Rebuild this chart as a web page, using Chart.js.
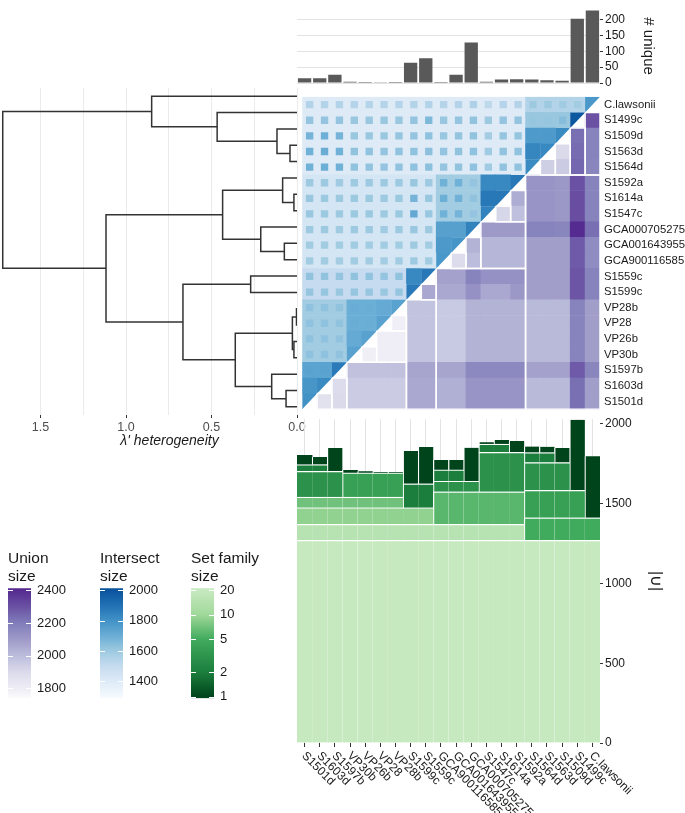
<!DOCTYPE html>
<html>
<head>
<meta charset="utf-8">
<script src="https://cdn.jsdelivr.net/npm/chart.js@4.4.1/dist/chart.umd.min.js"></script>
<style>
  html, body { margin: 0; padding: 0; background: #fff; }
  body { width: 685px; height: 813px; position: relative; overflow: hidden; }
  canvas { position: absolute; }
</style>
</head>
<body>
<canvas id="dendro"></canvas>
<canvas id="bottom"></canvas>
<canvas id="heat"></canvas>
<canvas id="top"></canvas>
<canvas id="legUnion"></canvas>
<canvas id="legInter"></canvas>
<canvas id="legFam"></canvas>
<script>
// genomes, top to bottom in the heatmap (columns run the other way)
const rows = ['C.lawsonii', 'S1499c', 'S1509d', 'S1563d', 'S1564d', 'S1592a', 'S1614a', 'S1547c',
  'GCA000705275', 'GCA001643955', 'GCA900116585', 'S1559c', 'S1599c', 'VP28b', 'VP28', 'VP26b',
  'VP30b', 'S1597b', 'S1603d', 'S1501d'];
const cols = rows.slice().reverse();

// # unique, by column
const uniqueCount = [15, 15, 26, 4, 3, 2, 3, 64, 78, 3, 26, 128, 4, 11, 12, 11, 9, 7, 203, 229];

// dendrogram merges: 0-19 are leaves (rows), 20+k is merge k
const mergeA = [3, 2, 1, 0, 6, 5, 9, 8, 25, 11, 13, 15, 30, 18, 17, 32, 29, 28, 23];
const mergeB = [4, 20, 21, 22, 7, 24, 10, 26, 27, 12, 14, 16, 31, 19, 33, 34, 35, 36, 37];
const mergeHeight = [0.041, 0.117, 0.467, 0.85, 0.018, 0.084, 0.074, 0.212, 0.435, 0.271,
  0.003, 0.018, 0.027, 0.064, 0.148, 0.361, 0.667, 1.117, 1.721];
// intersect of every genome in a merge block (block background)
const coreSize = [1835, 1770, 1610, 1550, 1880, 1830, 1775, 1750, 1590, 1830,
  1715, 1715, 1700, 1785, 1740, 1590, 1500, 1440, 1400];

// diagonal: genome size
const genomeSize = [1780, 1990, 1820, 1830, 1820, 1880, 1880, 1850, 1850, 1790,
  1780, 1880, 1875, 1745, 1745, 1745, 1745, 1870, 1820, 1800];

// pairwise intersect, row r, columns 0 .. 18-r
const interRows = [
  [1550, 1550, 1550, 1540, 1540, 1540, 1540, 1550, 1550, 1540, 1545, 1560, 1520, 1540, 1545, 1600, 1600, 1595, 1590],
  [1620, 1620, 1620, 1610, 1610, 1610, 1610, 1620, 1660, 1610, 1620, 1625, 1600, 1620, 1620, 1615, 1615, 1645],
  [1680, 1695, 1680, 1610, 1610, 1610, 1615, 1620, 1630, 1610, 1620, 1625, 1585, 1615, 1615, 1770, 1775],
  [1690, 1705, 1690, 1625, 1625, 1620, 1625, 1630, 1635, 1620, 1625, 1630, 1595, 1625, 1625, 1835],
  [1690, 1700, 1690, 1625, 1625, 1620, 1625, 1630, 1635, 1620, 1625, 1630, 1595, 1625, 1625],
  [1600, 1600, 1595, 1600, 1600, 1600, 1600, 1610, 1600, 1690, 1690, 1620, 1830, 1830],
  [1610, 1605, 1600, 1605, 1605, 1600, 1605, 1680, 1610, 1700, 1690, 1625, 1880],
  [1610, 1605, 1600, 1605, 1605, 1600, 1605, 1720, 1610, 1690, 1680, 1620],
  [1600, 1600, 1595, 1600, 1600, 1595, 1600, 1610, 1600, 1750, 1750],
  [1590, 1590, 1590, 1590, 1590, 1590, 1590, 1600, 1590, 1775],
  [1590, 1590, 1585, 1590, 1590, 1585, 1590, 1600, 1590],
  [1625, 1625, 1620, 1625, 1625, 1620, 1625, 1830],
  [1615, 1615, 1610, 1615, 1615, 1610, 1615],
  [1630, 1630, 1625, 1705, 1705, 1715],
  [1630, 1630, 1625, 1705, 1705],
  [1630, 1630, 1625, 1715],
  [1630, 1630, 1625],
  [1745, 1745],
  [1785],
  []
];

// pairwise union, row r, columns 20-r .. 19
const unionRows = [
  [],
  [2300],
  [2230, 2180],
  [1900, 2240, 2180],
  [1940, 1950, 2250, 2170],
  [2120, 2120, 2110, 2300, 2180],
  [2050, 2120, 2120, 2110, 2310, 2180],
  [1910, 1990, 2120, 2120, 2110, 2310, 2180],
  [2100, 2100, 2100, 2180, 2180, 2170, 2400, 2230],
  [2030, 2020, 2020, 2020, 2090, 2090, 2090, 2280, 2150],
  [1890, 2000, 2020, 2020, 2020, 2090, 2090, 2090, 2280, 2150],
  [2080, 2080, 2180, 2130, 2130, 2130, 2090, 2090, 2090, 2290, 2180],
  [2060, 2060, 2060, 2130, 2060, 2060, 2110, 2090, 2090, 2090, 2290, 2180],
  [1980, 1980, 1960, 1960, 2030, 2030, 2030, 2030, 2010, 2010, 2010, 2180, 2090],
  [1795, 1980, 1980, 1960, 1960, 2030, 2030, 2030, 2030, 2010, 2010, 2010, 2180, 2090],
  [1800, 1800, 1980, 1980, 1960, 1960, 2030, 2030, 2030, 2030, 2010, 2010, 2010, 2180, 2090],
  [1790, 1800, 1800, 1980, 1980, 1960, 1960, 2030, 2030, 2030, 2030, 2010, 2010, 2010, 2180, 2090],
  [1985, 1985, 1985, 1985, 2070, 2070, 2070, 2070, 2160, 2160, 2160, 2160, 2080, 2080, 2080, 2280, 2170],
  [1890, 1950, 1950, 1950, 1950, 2060, 2060, 2040, 2040, 2120, 2120, 2120, 2120, 2010, 2010, 2010, 2230, 2090],
  [1860, 1900, 1950, 1950, 1950, 1950, 2060, 2060, 2040, 2040, 2120, 2120, 2120, 2120, 2010, 2010, 2010, 2230, 2090]
];

// set families under the |U| bars (bottom to top), columns famStart..famEnd
const famStart = [0, 0, 15, 0, 9, 0, 7, 0, 3, 9, 12, 15, 0, 9, 12, 15, 15];
const famEnd = [19, 14, 19, 8, 14, 6, 8, 2, 6, 11, 14, 18, 1, 10, 13, 17, 16];
const famSize = [20, 15, 5, 9, 6, 7, 2, 3, 4, 3, 3, 4, 2, 2, 2, 3, 2];
const famGenes = [1271, 100, 141, 104, 204, 66, 150, 162, 152, 66, 247, 172, 42, 71, 52, 174, 62];
// top (size 1) segment of each column
const singleGenes = [58, 48, 147, 19, 10, 6, 6, 206, 231, 62, 62, 210, 12, 25, 71, 39, 37, 91, 442, 386];


Chart.defaults.font.family = "'Liberation Sans', Arial, sans-serif";
Chart.defaults.color = '#1a1a1a';
Chart.defaults.animation = false;
Chart.defaults.responsive = false;
Chart.defaults.plugins.legend.display = false;
Chart.defaults.plugins.tooltip.enabled = false;

const place = (id, left, top, w, h) => {
  const c = document.getElementById(id);
  c.width = w; c.height = h;
  c.style.left = left + 'px'; c.style.top = top + 'px';
  return c;
};

const hexRgb = h => [1, 3, 5].map(i => parseInt(h.slice(i, i + 2), 16));
function ramp(stops) {
  return v => {
    if (v <= stops[0][0]) return stops[0][1];
    for (let i = 1; i < stops.length; i++) {
      if (v <= stops[i][0]) {
        const t = (v - stops[i - 1][0]) / (stops[i][0] - stops[i - 1][0]);
        const a = hexRgb(stops[i - 1][1]), b = hexRgb(stops[i][1]);
        return 'rgb(' + a.map((x, k) => Math.round(x + (b[k] - x) * t)).join(',') + ')';
      }
    }
    return stops[stops.length - 1][1];
  };
}
const blue = ramp([[1290, '#f7fbff'], [1400, '#deebf7'], [1500, '#c6dbef'], [1600, '#9ecae1'],
  [1700, '#6baed6'], [1800, '#4292c6'], [1900, '#2171b5'], [2010, '#08519c']]);
const purple = ramp([[1740, '#fcfbfd'], [1800, '#efedf5'], [1900, '#dadaeb'], [2000, '#bcbddc'],
  [2100, '#9e9ac8'], [2200, '#807dba'], [2300, '#6a51a3'], [2410, '#54278f']]);
const greenT = ramp([[0, '#00441b'], [0.23, '#1b7e3d'], [0.54, '#41ab5d'], [0.77, '#a1d99b'], [1, '#c7e9c0']]);
const green = s => greenT(Math.log(Math.max(s, 1)) / Math.log(20));


// ---- dendrogram ----
const nodeY = [], nodeH = [], leafMin = [], leafMax = [];
rows.forEach((_, i) => { nodeY[i] = i; nodeH[i] = 0; leafMin[i] = i; leafMax[i] = i; });
const dendroSets = mergeA.map((a, k) => {
  const b = mergeB[k], h = mergeHeight[k], n = 20 + k;
  nodeY[n] = (nodeY[a] + nodeY[b]) / 2;
  nodeH[n] = h;
  leafMin[n] = Math.min(leafMin[a], leafMin[b]);
  leafMax[n] = Math.max(leafMax[a], leafMax[b]);
  return {
    data: [{x: nodeH[a], y: nodeY[a]}, {x: h, y: nodeY[a]}, {x: h, y: nodeY[b]}, {x: nodeH[b], y: nodeY[b]}],
    showLine: true, borderColor: '#333', borderWidth: 1.5, pointRadius: 0, tension: 0
  };
});

new Chart(place('dendro', 0, 88, 330, 370), {
  type: 'scatter',
  data: { datasets: dendroSets },
  options: {
    layout: { padding: { left: 0, right: 33, top: 0, bottom: 0 } },
    scales: {
      x: {
        type: 'linear', reverse: true, min: 0, max: 1.737,
        grid: { color: '#ebebeb', tickLength: 3, tickColor: ctx => (ctx.tick && (ctx.tick.value * 2) % 1 === 0) ? '#333' : 'rgba(0,0,0,0)' },
        border: { display: false },
        afterBuildTicks: s => { s.ticks = [0, 0.25, 0.5, 0.75, 1, 1.25, 1.5].map(v => ({value: v})); },
        ticks: { callback: v => (v * 2) % 1 === 0 ? v.toFixed(1) : '', font: { size: 12.5 }, color: '#4d4d4d', padding: 2, maxRotation: 0, autoSkip: false },
        afterFit: s => { s.height = 43; },
        title: { display: true, text: "\u2003\u2003\u2003λ' heterogeneity", font: { size: 14, style: 'italic' }, color: '#1a1a1a', padding: { top: 0, bottom: 8 } }
      },
      y: { type: 'linear', reverse: true, min: -0.5, max: 19.5, display: false }
    }
  }
});


// ---- heatmap ----
const coreOf = rows.map(() => []);
mergeA.forEach((a, k) => {
  const b = mergeB[k];
  for (let r = leafMin[a]; r <= leafMax[a]; r++)
    for (let g = leafMin[b]; g <= leafMax[b]; g++) coreOf[r][g] = coreSize[k];
});

const cellData = [], squareData = [];
interRows.forEach((vals, r) => vals.forEach((v, c) => {
  cellData.push({x: c, y: [r - 0.5, r + 0.5], v: coreOf[r][19 - c], kind: 'i'});
  squareData.push({x: c, y: r, v: v});
}));
unionRows.forEach((vals, r) => vals.forEach((v, k) => {
  cellData.push({x: 20 - r + k, y: [r - 0.5, r + 0.5], v: v, kind: 'u'});
}));

const triSets = genomeSize.map((v, r) => {
  const c = 19 - r;
  return {
    type: 'line', order: 1,
    data: [{x: c - 0.5, y: r - 0.5}, {x: c + 0.5, y: r - 0.5}, {x: c - 0.5, y: r + 0.5}, {x: c - 0.5, y: r - 0.5}],
    fill: 'shape', backgroundColor: blue(v), borderColor: 'rgba(0,0,0,0)', borderWidth: 0, pointRadius: 0, tension: 0
  };
});

// white outlines round each union block
const edgeSets = mergeA.map((a, k) => {
  const b = mergeB[k];
  const r0 = leafMin[b] - 0.5, r1 = leafMax[b] + 0.5;
  const c0 = 19 - leafMax[a] - 0.5, c1 = 19 - leafMin[a] + 0.5;
  return {
    type: 'line', order: 0,
    data: [{x: c0, y: r0}, {x: c1, y: r0}, {x: c1, y: r1}, {x: c0, y: r1}, {x: c0, y: r0}],
    borderColor: '#ffffff', borderWidth: 1.5, pointRadius: 0, fill: false, tension: 0
  };
});

new Chart(place('heat', 297, 86, 388, 334), {
  type: 'bar',
  data: {
    datasets: [
      ...edgeSets,
      ...triSets,
      { type: 'scatter', order: 2, data: squareData, pointStyle: 'rect', pointRadius: 5.2, pointBorderWidth: 0,
        pointBackgroundColor: ctx => blue(ctx.raw.v) },
      { type: 'bar', order: 3, data: cellData, barPercentage: 1, categoryPercentage: 1, borderWidth: 0,
        backgroundColor: ctx => ctx.raw.kind === 'i' ? blue(ctx.raw.v) : purple(ctx.raw.v) }
    ]
  },
  options: {
    layout: { padding: { top: 2, bottom: 5, left: 0, right: 0 } },
    scales: {
      x: { type: 'linear', min: -0.5, max: 19.5, offset: false, display: false,
           afterBuildTicks: s => { s.ticks = cols.map((_, i) => ({value: i})); } },
      y: {
        type: 'linear', min: -0.5, max: 19.5, reverse: true, position: 'right',
        grid: { display: false, drawTicks: false, tickLength: 0 }, border: { display: false },
        afterBuildTicks: s => { s.ticks = rows.map((_, i) => ({value: i})); },
        ticks: { callback: v => rows[v], font: { size: 11.3 }, color: '#1a1a1a', padding: 4, autoSkip: false },
        afterFit: s => { s.width = 85; }
      }
    }
  }
});


// ---- # unique bars ----
new Chart(place('top', 297, 0, 388, 95), {
  type: 'bar',
  data: { labels: cols, datasets: [{ data: uniqueCount, backgroundColor: '#595959', categoryPercentage: 0.88, barPercentage: 1 }] },
  options: {
    layout: { padding: { top: 0, bottom: 12, left: 0, right: 0 } },
    scales: {
      x: { display: false },
      y: {
        position: 'right', min: 0, max: 233,
        grid: { color: ctx => ctx.tick && ctx.tick.value % 50 === 0 ? '#e3e3e3' : '#f0f0f0',
                tickLength: 3, tickColor: ctx => ctx.tick && ctx.tick.value % 50 === 0 ? '#333' : 'rgba(0,0,0,0)' },
        border: { display: false },
        afterBuildTicks: s => { s.ticks = [0, 25, 50, 75, 100, 125, 150, 175, 200, 225].map(v => ({value: v})); },
        ticks: { callback: v => v % 50 === 0 ? String(v) : '', font: { size: 12 }, color: '#1a1a1a', padding: 2 },
        afterFit: s => { s.width = 85; },
        title: { display: true, text: '# unique', font: { size: 15 }, color: '#1a1a1a', padding: { top: 28, bottom: 0 } }
      }
    }
  }
});


// ---- |U| stacked set families ----
const slantLabels = {
  id: 'slantLabels',
  afterDraw(chart) {
    const {ctx, chartArea: a, scales: {x}} = chart;
    ctx.save();
    ctx.font = "12px 'Liberation Sans', Arial, sans-serif";
    ctx.fillStyle = '#1a1a1a';
    ctx.textAlign = 'left';
    ctx.textBaseline = 'middle';
    chart.data.labels.forEach((lab, i) => {
      ctx.save();
      ctx.translate(x.getPixelForValue(i) - 1, a.bottom + 11);
      ctx.rotate(Math.PI / 4);
      ctx.fillText(lab, 0, 0);
      ctx.restore();
    });
    ctx.restore();
  }
};

const famSets = famStart.map((s, k) => ({
  data: cols.map((_, c) => (c >= s && c <= famEnd[k]) ? famGenes[k] : null),
  backgroundColor: green(famSize[k]),
  borderColor: '#ffffff',
  borderWidth: ctx => ({ top: 1.2, right: 0, bottom: 0, left: (ctx.dataIndex === s && s > 0) ? 1.2 : 0 })
}));
famSets.push({
  data: singleGenes,
  backgroundColor: green(1),
  borderColor: '#ffffff',
  borderWidth: ctx => ({ top: 0, right: 0, bottom: 0, left: ctx.dataIndex > 0 ? 1.2 : 0 })
});

new Chart(place('bottom', 297, 410, 388, 403), {
  type: 'bar',
  data: { labels: cols, datasets: famSets },
  options: {
    layout: { padding: { top: 6, bottom: 0, left: 0, right: 0 } },
    datasets: { bar: { barPercentage: 1, categoryPercentage: 1 } },
    scales: {
      x: {
        stacked: true,
        grid: { color: '#e3e3e3', offset: false, tickLength: 4, tickColor: '#333' },
        border: { display: false },
        ticks: { display: false },
        afterFit: s => { s.height = 70; }
      },
      y: {
        stacked: true, position: 'right', min: 0, max: 2030,
        grid: { display: true, drawOnChartArea: false, tickLength: 3, tickColor: '#333' },
        border: { display: false },
        afterBuildTicks: s => { s.ticks = [0, 500, 1000, 1500, 2000].map(v => ({value: v})); },
        ticks: { callback: v => String(v), font: { size: 12 }, color: '#1a1a1a', padding: 2 },
        afterFit: s => { s.width = 85; },
        title: { display: true, text: '|∪|', font: { size: 16 }, color: '#1a1a1a', padding: { top: 20, bottom: 0 } }
      }
    }
  },
  plugins: [slantLabels]
});


// ---- colour bars ----
const barTicks = {
  id: 'barTicks',
  afterDatasetsDraw(chart) {
    const {ctx, chartArea: a, scales: {y}} = chart;
    ctx.save();
    ctx.strokeStyle = '#ffffff';
    ctx.lineWidth = 1;
    y.ticks.forEach(t => {
      const py = Math.round(y.getPixelForValue(t.value)) + 0.5;
      ctx.beginPath();
      ctx.moveTo(a.left, py); ctx.lineTo(a.left + 5, py);
      ctx.moveTo(a.right - 5, py); ctx.lineTo(a.right, py);
      ctx.stroke();
    });
    ctx.restore();
  }
};

function colourbar(id, left, title, type, min, max, tickVals, colourOf) {
  return new Chart(place(id, left, 540, 90, 172), {
    type: 'bar',
    data: {
      labels: [''],
      datasets: [{
        data: [[min, max]], barPercentage: 1, categoryPercentage: 1, borderWidth: 0,
        backgroundColor: ctx => {
          const chart = ctx.chart, a = chart.chartArea;
          if (!a) return '#ccc';
          const ys = chart.scales.y;
          const g = chart.ctx.createLinearGradient(0, a.bottom, 0, a.top);
          for (let i = 0; i <= 40; i++) {
            const py = a.bottom - (a.bottom - a.top) * i / 40;
            g.addColorStop(i / 40, colourOf(ys.getValueForPixel(py)));
          }
          return g;
        }
      }]
    },
    options: {
      layout: { padding: { top: 0, bottom: 12, left: 0, right: 0 } },
      plugins: {
        title: { display: true, text: title, align: 'start', color: '#1a1a1a',
                 font: { size: 15.5, weight: 'normal', lineHeight: 1.14 }, padding: { top: 10, bottom: 3 } }
      },
      scales: {
        x: { display: false },
        y: {
          type: type, min: min, max: max, position: 'right',
          grid: { display: false, drawTicks: false, tickLength: 0 }, border: { display: false },
          afterBuildTicks: s => { s.ticks = tickVals.map(v => ({value: v})); },
          ticks: { callback: v => String(v), font: { size: 13 }, color: '#1a1a1a', padding: 6 },
          afterFit: s => { s.width = 67; }
        }
      }
    },
    plugins: [barTicks]
  });
}

colourbar('legUnion', 8, ['Union', 'size'], 'linear', 1740, 2412, [1800, 2000, 2200, 2400], purple);
colourbar('legInter', 100, ['Intersect', 'size'], 'linear', 1290, 2013, [1400, 1600, 1800, 2000], blue);
colourbar('legFam', 191, ['Set family', 'size'], 'logarithmic', 0.96, 21, [1, 2, 5, 10, 20], green);
</script>
</body>
</html>
